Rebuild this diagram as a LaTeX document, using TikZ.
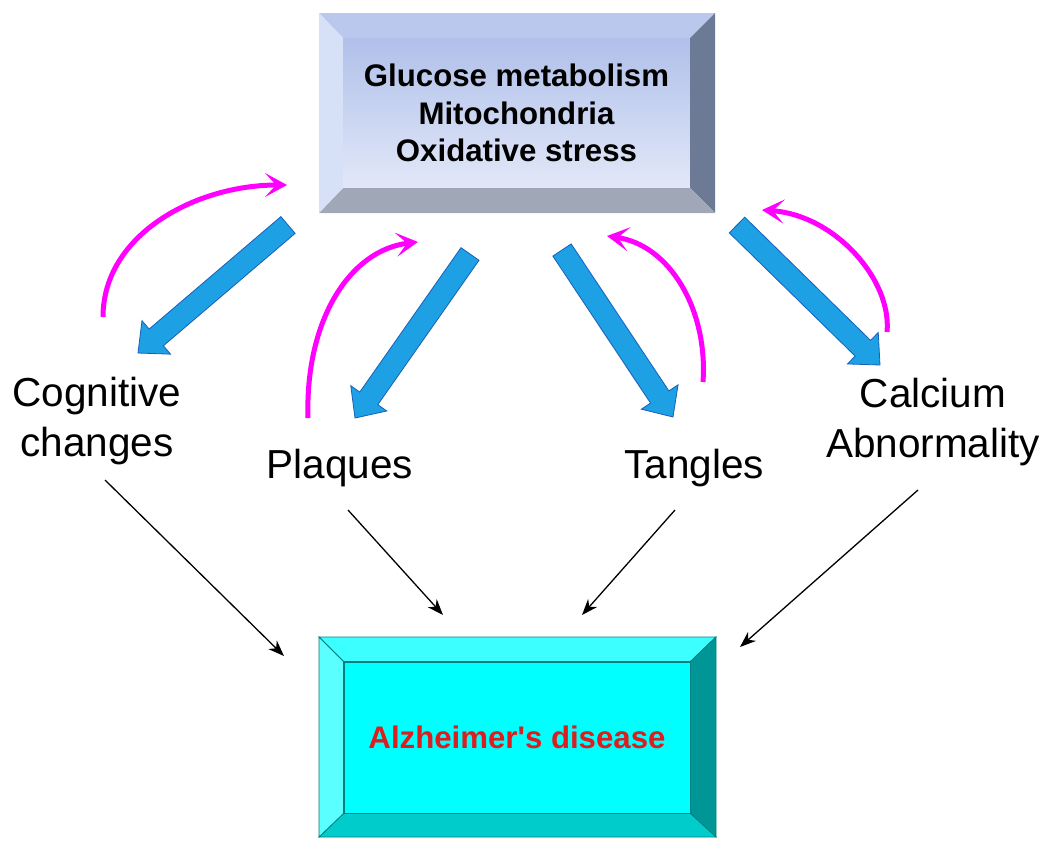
\documentclass[tikz,border=0pt]{standalone}
\usepackage{fontspec}
\setmainfont{Liberation Sans}[Ligatures=TeXOff]
\usetikzlibrary{arrows.meta,calc}
\definecolor{faceTop}{RGB}{176,192,234}
\definecolor{faceBot}{RGB}{226,232,248}
\definecolor{bevTop}{RGB}{186,200,238}
\definecolor{bevLeft}{RGB}{214,224,246}
\definecolor{bevRight}{RGB}{108,122,150}
\definecolor{bevBot}{RGB}{160,168,184}
\definecolor{cyFace}{RGB}{0,255,255}
\definecolor{cyTop}{RGB}{60,255,255}
\definecolor{cyLeft}{RGB}{90,255,255}
\definecolor{cyRight}{RGB}{0,150,150}
\definecolor{cyBot}{RGB}{0,204,204}
\definecolor{cyLine}{RGB}{0,128,128}
\definecolor{arrBlue}{RGB}{30,160,228}
\definecolor{arrEdge}{RGB}{25,95,185}
\definecolor{mag}{RGB}{255,0,255}
\definecolor{adred}{RGB}{220,30,30}
\newcommand\fatarr[2]{%
  \coordinate (fah) at ($(#2)!24pt!(#1)$);
  \filldraw[fatarrow] ($(#1)!11pt!90:(#2)$) -- ($(fah)!11pt!90:(#2)$) -- ($(fah)!22pt!90:(#2)$) -- (#2)
    -- ($(fah)!22pt!-90:(#2)$) -- ($(fah)!11pt!-90:(#2)$) -- ($(#1)!11pt!-90:(#2)$) -- cycle;}
\begin{document}
\begin{tikzpicture}[x=1pt,y=-1pt,
  fatarrow/.style={fill=arrBlue,draw=arrEdge,line width=0.8pt,line join=miter},
  feedback/.style={draw=mag,line width=5pt,-{Stealth[length=22pt,width=24pt,inset=11pt]}},
  thinarr/.style={draw=black,line width=1.3pt,-{Stealth[length=16pt,width=12pt,inset=5pt]}},
  lbl/.style={font=\fontsize{40.5}{50}\selectfont,align=center,inner sep=0pt},
  boxtxt/.style={font=\bfseries\fontsize{31.2}{37.5}\selectfont,align=center}]
\useasboundingbox (0,0) rectangle (1050,849);
\fill[white] (0,0) rectangle (1050,849);

% ---- top bevelled box ----
\node[minimum width=347pt,minimum height=150pt,inner sep=0pt,top color=faceTop,bottom color=faceBot,boxtxt] (top) at (516.5,113)
  {Glucose metabolism\\Mitochondria\\Oxidative stress};
\coordinate (o1) at (319,13); \coordinate (o2) at (715,13);
\coordinate (o3) at (715,213); \coordinate (o4) at (319,213);
\fill[bevTop] (o1) -- (o2) -- (top.north east) -- (top.north west) -- cycle;
\fill[bevRight] (o2) -- (o3) -- (top.south east) -- (top.north east) -- cycle;
\fill[bevBot] (o3) -- (o4) -- (top.south west) -- (top.south east) -- cycle;
\fill[bevLeft] (o4) -- (o1) -- (top.north west) -- (top.south west) -- cycle;

% ---- bottom bevelled box ----
\node[minimum width=346pt,minimum height=151pt,inner sep=0pt,fill=cyFace,draw=cyLine,line width=0.8pt,boxtxt,text=adred] (ad) at (517,737.5)
  {Alzheimer's disease};
\coordinate (p1) at (319,637); \coordinate (p2) at (716,637);
\coordinate (p3) at (716,837); \coordinate (p4) at (319,837);
\filldraw[fill=cyTop,draw=cyLine,line width=0.8pt] (p1) -- (p2) -- (ad.north east) -- (ad.north west) -- cycle;
\filldraw[fill=cyRight,draw=cyLine,line width=0.8pt] (p2) -- (p3) -- (ad.south east) -- (ad.north east) -- cycle;
\filldraw[fill=cyBot,draw=cyLine,line width=0.8pt] (p3) -- (p4) -- (ad.south west) -- (ad.south east) -- cycle;
\filldraw[fill=cyLeft,draw=cyLine,line width=0.8pt] (p4) -- (p1) -- (ad.north west) -- (ad.south west) -- cycle;

% ---- labels ----
\node[lbl] (cog) at (97,421) {Cognitive\\changes};
\node[lbl] (plq) at (340,468) {Plaques};
\node[lbl] (tng) at (694,468) {Tangles};
\node[lbl] (cal) at (933,422) {Calcium\\Abnormality};

% ---- blue arrows (top box -> labels) ----
\coordinate (bt1) at (288,225); \coordinate (bh1) at (138,353);
\coordinate (bt2) at (470,254); \coordinate (bh2) at (355,418);
\coordinate (bt3) at (562,250); \coordinate (bh3) at (673,417);
\coordinate (bt4) at (737,225); \coordinate (bh4) at (880,365);
\fatarr{bt1}{bh1}
\fatarr{bt2}{bh2}
\fatarr{bt3}{bh3}
\fatarr{bt4}{bh4}

% ---- magenta feedback arcs (labels -> top box) ----
\coordinate (ms1) at (103,317); \coordinate (me1) at (287,185);
\coordinate (ms2) at (308,418); \coordinate (me2) at (418,242);
\coordinate (ms3) at (703,382); \coordinate (me3) at (607,236);
\coordinate (ms4) at (887,332); \coordinate (me4) at (762,210);
\draw[feedback] (ms1) .. controls (103,235) and (195,185) .. (me1);
\draw[feedback] (ms2) .. controls (305,320) and (350,250) .. (me2);
\draw[feedback] (ms3) .. controls (708,310) and (670,245) .. (me3);
\draw[feedback] (ms4) .. controls (892,280) and (835,215) .. (me4);

% ---- thin black arrows (labels -> Alzheimer's box) ----
\coordinate (k1s) at (105,480); \coordinate (k1e) at (284,656);
\coordinate (k2s) at (348,510); \coordinate (k2e) at (443,615);
\coordinate (k3s) at (675,510); \coordinate (k3e) at (582,615);
\coordinate (k4s) at (918,490); \coordinate (k4e) at (740,647);
\draw[thinarr] (k1s) -- (k1e);
\draw[thinarr] (k2s) -- (k2e);
\draw[thinarr] (k3s) -- (k3e);
\draw[thinarr] (k4s) -- (k4e);
\end{tikzpicture}
\end{document}
